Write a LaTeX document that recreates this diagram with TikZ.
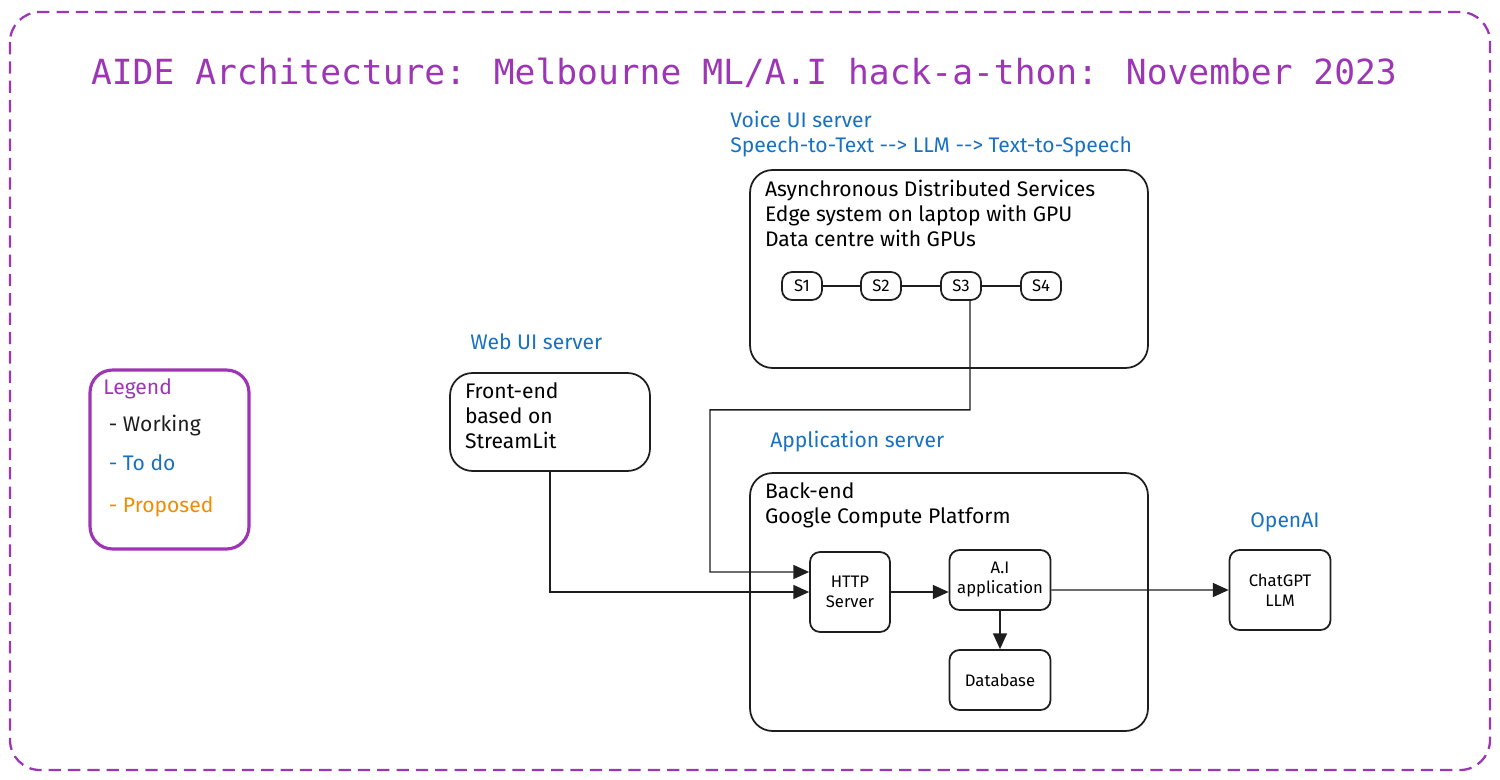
\documentclass[tikz,border=0pt]{standalone}
\usepackage{fontspec}
\setmainfont{Fira Sans}
\newfontfamily\titlefont{DejaVu Sans Mono}
\usetikzlibrary{arrows.meta}
\definecolor{hackpurple}{HTML}{9C36B5}
\definecolor{todoblue}{HTML}{1971C2}
\definecolor{proporange}{HTML}{F08C00}
\definecolor{inkblack}{HTML}{1E1E1E}

\begin{document}
\begin{tikzpicture}[x=0.02cm, y=-0.02cm, font=\fontsize{12}{14.2}\selectfont]
        \useasboundingbox (0,0) rectangle (1500,780);
        \draw[hackpurple, line width=1.3pt, dash pattern=on 7pt off 4pt, rounded corners=0.6cm] (10,12) rectangle (1490,770);
        \node[hackpurple, font=\titlefont\fontsize{19.7}{24}\selectfont] (title) at (744,73) {AIDE Architecture: Melbourne ML/A.I hack-a-thon: November 2023};
        % server labels
        \begin{scope}[every node/.style={todoblue, align=left, inner sep=0pt}]
                \node[anchor=west] (voicetag) at (730,134.5) {Voice UI server\\Speech-to-Text -{}-> LLM -{}-> Text-to-Speech};
                \node[anchor=west] (webtag) at (470,342) {Web UI server};
                \node[anchor=west] (apptag) at (770,442) {Application server};
                \node (aitag) at (1285,522) {OpenAI};
        \end{scope}
        % big boxes
        \begin{scope}[every node/.style={draw=inkblack, line width=1pt, rounded corners=0.45cm, inner sep=0pt},
                      every label/.style={draw=none, anchor=north west, align=left, inner sep=0pt, xshift=0.3cm, yshift=-0.2cm}]
                \node[minimum width=7.96cm, minimum height=3.96cm, label={north west:Asynchronous Distributed Services\\Edge system on laptop with GPU\\Data centre with GPUs}] (async) at (949,269) {};
                \node[minimum width=4cm, minimum height=1.96cm, label={north west:Front-end\\based on\\StreamLit}] (front) at (550,422) {};
                \node[minimum width=7.96cm, minimum height=5.16cm, label={north west:Back-end\\Google Compute Platform}] (back) at (949,602) {};
                \node[draw=hackpurple, line width=1.8pt, minimum width=3.18cm, minimum height=3.58cm,
                      label={[xshift=-0.02cm, yshift=0.02cm]north west:{\color{hackpurple}Legend}\\[7pt] \ {\color{inkblack}- Working}\\[8pt] \ {\color{todoblue}- To do}\\[10pt] \ {\color{proporange}- Proposed}}] (legend) at (169.5,459.5) {};
        \end{scope}
        % small boxes
        \begin{scope}[every node/.style={draw=inkblack, line width=1pt, rounded corners=0.2cm, align=center, inner sep=0pt, font=\fontsize{9.5}{11.4}\selectfont}]
                \node[minimum width=0.8cm, minimum height=0.56cm] (S1) at (802,286) {S1};
                \node[minimum width=0.8cm, minimum height=0.56cm] (S2) at (881,286) {S2};
                \node[minimum width=0.8cm, minimum height=0.56cm] (S3) at (961,286) {S3};
                \node[minimum width=0.8cm, minimum height=0.56cm] (S4) at (1041,286) {S4};
                \node[minimum width=1.6cm, minimum height=1.6cm] (http) at (850,592) {HTTP\\Server};
                \node[minimum width=2.02cm, minimum height=1.2cm] (ai) at (1000,580) {A.I\\application};
                \node[minimum width=2.02cm, minimum height=1.2cm] (db) at (1000,680) {Database};
                \node[minimum width=2.02cm, minimum height=1.6cm] (gpt) at (1280,590) {ChatGPT\\LLM};
        \end{scope}
        \begin{scope}[every path/.style={draw=inkblack, line width=0.8pt}]
                \path (S1) edge (S2);
                \path (S2) edge (S3);
                \path (S3) edge (S4);
        \end{scope}
        \begin{scope}[every path/.style={draw=inkblack, line width=0.8pt, ->, >={Triangle[length=9pt, width=8pt]}}]
                \path (front.south) |- (http.west);
                \path ([xshift=0.18cm]S3.south) -- ++(0,109) -| (710,572) -- ([yshift=0.4cm]http.west);
                \path (http) -- (http -| ai.west);
                \path (ai) -- (db);
                \path ([yshift=-0.2cm]ai.east) -- (gpt.west);
        \end{scope}
\end{tikzpicture}
\end{document}
